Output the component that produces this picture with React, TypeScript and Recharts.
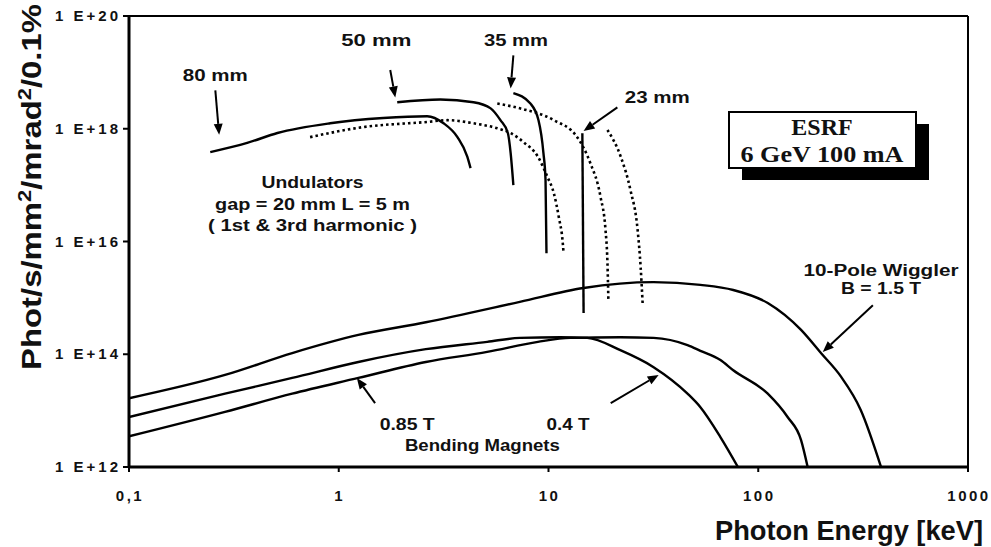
import { LineChart, Line, XAxis, YAxis, ReferenceLine, ReferenceDot } from "recharts";

type Pt = [number, number];

// axis ticks
const X_TICKS = [0.1, 1, 10, 100, 1000];
const Y_TICKS = [1e12, 1e14, 1e16, 1e18, 1e20];

// [photon energy keV, brilliance]
const bm04T: Pt[] = [
  [0.1, 7.7e12], [0.287, 2.0e13], [0.6, 3.8e13], [1.24, 7.3e13], [2.6, 1.23e14],
  [5.1, 1.66e14], [7.3, 1.95e14], [11.4, 2.0e14], [15.3, 1.95e14], [22, 1.18e14],
  [31.7, 5.9e13], [46, 2.0e13], [53, 1.15e13], [66, 3.4e12], [80, 1e12],
];
const bm085T: Pt[] = [
  [0.1, 3.5e12], [0.287, 9.5e12], [0.6, 2.0e13], [1.24, 3.8e13], [2.6, 7.3e13],
  [5.1, 1.1e14], [8.9, 1.66e14], [12.7, 1.95e14], [22, 2.0e14], [31.7, 1.95e14],
  [46, 1.45e14], [53, 1.15e14], [66, 7.9e13], [76, 5.2e13], [111, 2.0e13],
  [138, 7.7e12], [160, 3.0e12], [172, 1e12],
];
const wiggler: Pt[] = [
  [0.1, 1.66e13], [0.287, 4.3e13], [0.6, 1.05e14], [1.24, 2.2e14], [2.6, 3.7e14],
  [7.3, 8.5e14], [14.7, 1.5e15], [31.7, 1.9e15], [53, 1.7e15], [76, 1.38e15],
  [111, 8.1e14], [160, 2.7e14], [199, 1.05e14], [248, 4.0e13], [308, 1.03e13],
  [385, 1e12],
];
const und80: Pt[] = [
  [0.244, 3.85e17], [0.366, 5.6e17], [0.51, 8.4e17], [0.91, 1.25e18], [1.63, 1.55e18],
  [2.64, 1.67e18], [3.16, 1.25e18], [3.68, 7.1e17], [4.1, 3.2e17], [4.25, 2.0e17],
];
const und80h3: Pt[] = [
  [0.73, 7.1e17], [1.31, 1.07e18], [2.64, 1.32e18], [3.3, 1.42e18], [4.39, 1.25e18],
  [5.7, 1.02e18], [6.6, 8.4e17], [7.6, 5.8e17], [8.9, 3.2e17], [9.9, 1.38e17],
  [10.6, 7.2e16], [11.2, 2.7e16], [11.7, 9.3e15], [11.8, 6.2e15],
];
const und50: Pt[] = [
  [1.9, 2.95e18], [3.05, 3.3e18], [4.39, 2.95e18], [5.3, 2.3e18], [5.9, 1.42e18],
  [6.4, 8.4e17], [6.6, 3.7e17], [6.8, 1.0e17],
];
const und50h3: Pt[] = [
  [5.7, 2.8e18], [7.3, 2.3e18], [10.6, 1.42e18], [13.7, 7.1e17], [15.8, 2.5e17],
  [17.7, 6.2e16], [18.7, 1.6e16], [19.1, 4.2e15], [19.3, 9.1e14],
];
const und35: Pt[] = [
  [6.8, 4.3e18], [8.2, 2.8e18], [8.96, 1.42e18], [9.46, 3.7e17], [9.68, 1.23e17],
  [9.78, 6.2e15],
];
const und35h3: Pt[] = [
  [19.1, 9.5e17], [22.1, 3.2e17], [24.6, 8.1e16], [26.6, 1.6e16], [27.5, 3.5e15],
  [28.1, 8.1e14],
];
const und23: Pt[] = [[14.5, 8.3e17], [14.7, 5.4e14]];

// annotation arrows, from -> tip, in data units
const ARROWS: { from: Pt; to: Pt }[] = [
  { from: [0.258, 4.8e18], to: [0.269, 7.8e17] },
  { from: [1.76, 1.1e19], to: [1.86, 3.6e18] },
  { from: [6.8, 2.0e19], to: [6.6, 5.2e18] },
  { from: [21.3, 2.4e18], to: [14.7, 9.1e17] },
  { from: [1.49, 1.36e13], to: [1.22, 3.8e13] },
  { from: [19.8, 1.36e13], to: [33.5, 4.3e13] },
  { from: [352, 7.4e14], to: [203, 1.1e14] },
];

const LABELS = [
  { text: "80 mm", e: 0.258, f: 8.9e18, w: 65 },
  { text: "50 mm", e: 1.51, f: 3.7e19, w: 70 },
  { text: "35 mm", e: 7.0, f: 3.7e19, w: 64 },
  { text: "23 mm", e: 33, f: 3.6e18, w: 65 },
  { text: "Undulators", e: 0.75, f: 1.1e17, w: 102 },
  { text: "gap = 20 mm L = 5 m", e: 0.75, f: 4.5e16, w: 195 },
  { text: "( 1st & 3rd harmonic )", e: 0.75, f: 1.95e16, w: 209 },
  { text: "10-Pole  Wiggler", e: 385, f: 3.1e15, w: 155 },
  { text: "B = 1.5 T", e: 385, f: 1.44e15, w: 80 },
  { text: "0.85 T", e: 2.12, f: 5.6e12, w: 55 },
  { text: "Bending Magnets", e: 4.84, f: 2.36e12, w: 155 },
  { text: "0.4 T", e: 12.4, f: 5.6e12, w: 43 },
];

const toRows = (pts: Pt[]) => pts.map(([e, f]) => ({ e, f }));

const SERIES = [
  { key: "bm04", pts: bm04T },
  { key: "bm085", pts: bm085T },
  { key: "wig", pts: wiggler },
  { key: "u80", pts: und80 },
  { key: "u80h3", pts: und80h3, dash: "2.5 3" },
  { key: "u50", pts: und50 },
  { key: "u50h3", pts: und50h3, dash: "2.5 3" },
  { key: "u35", pts: und35 },
  { key: "u35h3", pts: und35h3, dash: "2.5 3" },
  { key: "u23", pts: und23, linear: true },
];

const FONT = "'Liberation Sans', Arial, sans-serif";

function XTick({ x, y, payload }: any) {
  const v = payload.value;
  const label = v === 0.1 ? "0,1" : String(v);
  return (
    <text x={x + 1} y={y} dy={27} textAnchor="middle" fontSize={15} fontWeight="bold"
      letterSpacing={2.5} fontFamily={FONT} fill="#111">
      {label}
    </text>
  );
}

function YTick({ x, y, payload }: any) {
  const exp = Math.round(Math.log10(payload.value));
  return (
    <text x={x} y={y} dy={5} textAnchor="end" fontSize={15} fontWeight="bold"
      letterSpacing={3} fontFamily={FONT} fill="#111">
      {`1 E+${exp}`}
    </text>
  );
}

function ArrowShape(props: any) {
  const { x1, y1, x2, y2 } = props;
  const ang = Math.atan2(y2 - y1, x2 - x1);
  const len = 11;
  const hw = 4.5;
  const bx = x2 - len * Math.cos(ang);
  const by = y2 - len * Math.sin(ang);
  const px = -Math.sin(ang) * hw;
  const py = Math.cos(ang) * hw;
  return (
    <g>
      <line x1={x1} y1={y1} x2={bx} y2={by} stroke="#000" strokeWidth={2} />
      <polygon points={`${x2},${y2} ${bx + px},${by + py} ${bx - px},${by - py}`} fill="#000" />
    </g>
  );
}

export default function App() {
  return (
    <div style={{ position: "absolute", left: 0, top: 0, width: 991, height: 547, background: "#fff" }}>
      <LineChart width={991} height={547} margin={{ top: 16, right: 23, bottom: 50, left: 59 }}>
        <XAxis
          type="number"
          dataKey="e"
          scale="log"
          domain={[0.1, 1000]}
          ticks={X_TICKS}
          allowDataOverflow
          interval={0}
          height={30}
          tickSize={5}
          axisLine={{ stroke: "#000", strokeWidth: 3 }}
          tickLine={{ stroke: "#000", strokeWidth: 2 }}
          tick={<XTick />}
        />
        <YAxis
          type="number"
          dataKey="f"
          scale="log"
          domain={[1e12, 1e20]}
          ticks={Y_TICKS}
          allowDataOverflow
          interval={0}
          width={70}
          tickSize={6}
          axisLine={{ stroke: "#000", strokeWidth: 3 }}
          tickLine={{ stroke: "#000", strokeWidth: 2 }}
          tick={<YTick />}
        />
        <ReferenceLine y={1e20} stroke="#000" strokeWidth={2} />
        <ReferenceLine x={1000} stroke="#000" strokeWidth={2} />
        {SERIES.map((s) => (
          <Line
            key={s.key}
            data={toRows(s.pts)}
            dataKey="f"
            type={s.linear ? "linear" : "monotone"}
            stroke="#000"
            strokeWidth={s.dash ? 2.6 : 2.4}
            strokeDasharray={s.dash}
            dot={false}
            activeDot={false}
            isAnimationActive={false}
          />
        ))}
        {ARROWS.map((a, i) => (
          <ReferenceLine
            key={`arr${i}`}
            segment={[{ x: a.from[0], y: a.from[1] }, { x: a.to[0], y: a.to[1] }]}
            shape={ArrowShape}
          />
        ))}
        {LABELS.map((l) => (
          <ReferenceDot
            key={l.text}
            x={l.e}
            y={l.f}
            r={0}
            shape={(p: any) => (
              <text x={p.cx} y={p.cy} textAnchor="middle" dominantBaseline="central"
                fontSize={16} fontWeight="bold" fontFamily={FONT} fill="#111"
                textLength={l.w} lengthAdjust="spacingAndGlyphs">
                {l.text}
              </text>
            )}
          />
        ))}
      </LineChart>
      <svg width={991} height={547} style={{ position: "absolute", left: 0, top: 0, pointerEvents: "none" }}>
        <text transform="translate(41,187) rotate(-90)" textAnchor="middle" fontSize={27}
          fontWeight="bold" fontFamily={FONT} fill="#111" textLength={366} lengthAdjust="spacingAndGlyphs">
          Phot/s/mm<tspan dy={-10} fontSize={18}>2</tspan>
          <tspan dy={10}>/mrad</tspan><tspan dy={-10} fontSize={18}>2</tspan>
          <tspan dy={10}>/0.1%</tspan>
        </text>
        <text x={983} y={540} textAnchor="end" fontSize={28} fontWeight="bold" fontFamily={FONT}
          fill="#111" textLength={268} lengthAdjust="spacingAndGlyphs">
          Photon Energy [keV]
        </text>
        <rect x={742} y={124} width={187} height={56} fill="#000" />
        <rect x={729} y={112} width={187} height={56} fill="#fff" stroke="#000" strokeWidth={2} />
        <text x={822} y={135} textAnchor="middle" fontSize={24} fontWeight="bold"
          fontFamily="'Liberation Serif', serif" fill="#111">ESRF</text>
        <text x={822} y={162} textAnchor="middle" fontSize={24} fontWeight="bold"
          fontFamily="'Liberation Serif', serif" fill="#111" textLength={163}
          lengthAdjust="spacingAndGlyphs">6 GeV 100 mA</text>
      </svg>
    </div>
  );
}
